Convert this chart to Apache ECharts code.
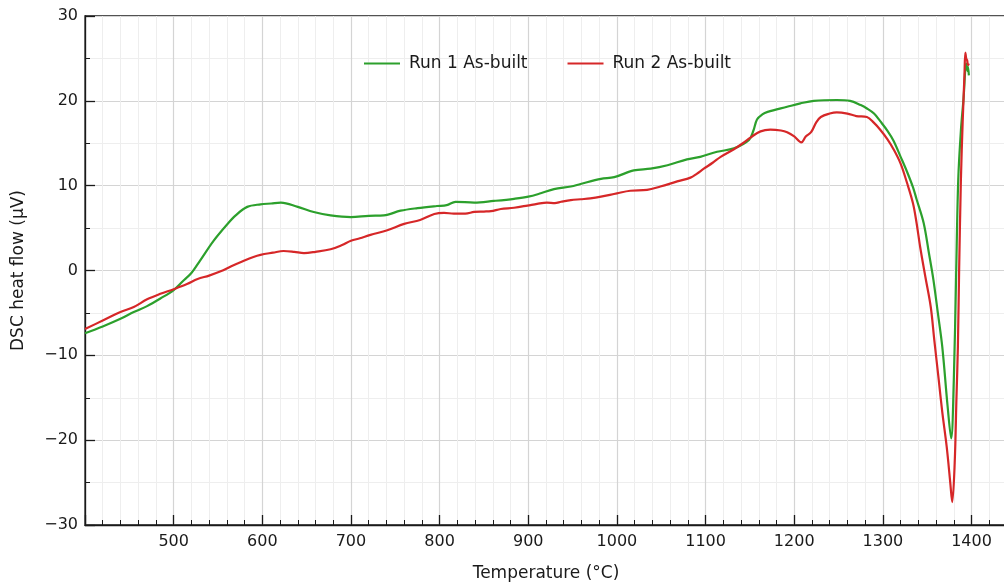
<!DOCTYPE html>
<html>
<head>
<meta charset="utf-8">
<script src="https://cdn.jsdelivr.net/npm/echarts@6/dist/echarts.min.js"></script>
<style>
  html, body { margin: 0; padding: 0; background: #fff; }
  #chart { width: 1004px; height: 582px; }
</style>
</head>
<body>
<div id="chart"></div>
<script>
// Run 1 As-built (green)
var temps1 = [400, 420, 440, 455, 470, 485, 500, 510, 520, 530, 545, 560, 570, 583, 598, 610, 621, 640, 658, 677,
  700, 720, 737, 756, 775, 797, 808, 818, 839, 861, 884, 900, 914, 929, 948, 959, 982, 997, 1019, 1038,
  1057, 1079, 1094, 1113, 1132, 1149, 1154, 1158, 1164, 1170, 1192, 1207, 1222, 1248, 1263, 1275, 1282, 1290, 1297, 1305,
  1312, 1320, 1327, 1334, 1338, 1346, 1352, 1357, 1362, 1367, 1373, 1377, 1380, 1382.5, 1385, 1388, 1391, 1394, 1395.5, 1396, 1397];
var heat1 = [-7.4, -6.6, -5.7, -4.9, -4.2, -3.3, -2.3, -1.3, -0.3, 1.2, 3.5, 5.4, 6.5, 7.5, 7.8, 7.9, 8.0, 7.5, 6.9, 6.5,
  6.3, 6.45, 6.5, 7.05, 7.35, 7.6, 7.7, 8.1, 8.0, 8.2, 8.45, 8.7, 9.1, 9.6, 9.9, 10.2, 10.8, 11.0, 11.8, 12.0,
  12.4, 13.1, 13.4, 14.0, 14.4, 15.4, 16.5, 17.8, 18.4, 18.7, 19.3, 19.7, 20.0, 20.1, 20.0, 19.5, 19.1, 18.5, 17.6, 16.5,
  15.3, 13.4, 11.7, 9.8, 8.4, 5.6, 2.0, -1.1, -5.0, -9.0, -16.0, -19.8, -12.9, -1.1, 10.7, 16.5, 20.3, 24.4, 23.5, 24.0, 23.0];

// Run 2 As-built (red)
var temps2 = [400, 420, 440, 455, 470, 485, 500, 515, 527, 540, 553, 565, 576, 590, 598, 612, 624, 636, 647, 660,
  677, 690, 700, 710, 722, 741, 760, 778, 794, 805, 816, 829, 839, 850, 858, 869, 884, 899, 910, 921,
  930, 937, 948, 959, 970, 982, 1000, 1015, 1034, 1049, 1068, 1083, 1090, 1098, 1108, 1117, 1132, 1142, 1151, 1162,
  1173, 1185, 1192, 1200, 1208, 1213, 1219, 1225, 1230, 1240, 1248, 1260, 1270, 1282, 1290, 1297, 1305, 1312, 1320, 1327,
  1334, 1338, 1342, 1348, 1354, 1358, 1363, 1367, 1372, 1376, 1378.2, 1381, 1383, 1384.6, 1386, 1388, 1390, 1392, 1393, 1394,
  1395, 1396, 1397];
var heat2 = [-6.9, -5.9, -4.9, -4.3, -3.4, -2.75, -2.2, -1.6, -1.0, -0.6, -0.1, 0.5, 1.0, 1.6, 1.85, 2.1, 2.3, 2.2, 2.05, 2.2,
  2.5, 3.0, 3.5, 3.8, 4.2, 4.75, 5.5, 5.95, 6.66, 6.8, 6.7, 6.7, 6.9, 6.95, 7.0, 7.25, 7.4, 7.65, 7.85, 8.0,
  7.95, 8.1, 8.3, 8.4, 8.5, 8.7, 9.1, 9.4, 9.5, 9.9, 10.5, 10.95, 11.4, 12.0, 12.7, 13.4, 14.3, 15.0, 15.7, 16.4,
  16.6, 16.5, 16.3, 15.8, 15.1, 15.8, 16.3, 17.5, 18.1, 18.5, 18.65, 18.5, 18.2, 18.1, 17.4, 16.6, 15.5, 14.3, 12.6, 10.4,
  7.9, 5.6, 2.8, -0.8, -4.3, -8.2, -12.9, -16.7, -20.8, -25.0, -27.3, -22.7, -15.0, -9.0, 0, 10.7, 17.5, 23.0, 25.7, 25.0,
  24.8, 24.2, 24.4];

var seriesNames = ['Run 1 As-built', 'Run 2 As-built'];
var seriesColors = ['#2ca02c', '#d62728'];

function zip(xs, ys) {
  return xs.map(function (x, i) { return [x, ys[i]]; });
}

var font = "'DejaVu Sans'";
var chart = echarts.init(document.getElementById('chart'));

chart.setOption({
  animation: false,
  grid: {
    left: 85, top: 16, right: -3, bottom: 57,
    outerBoundsMode: 'none',
    show: true, borderColor: '#1a1a1a', borderWidth: 1.3, backgroundColor: 'transparent'
  },
  legend: {
    left: 359, top: 50,
    icon: 'rect', itemWidth: 36, itemHeight: 2, itemGap: 40,
    textStyle: { fontFamily: font, fontSize: 17, color: '#1a1a1a', padding: [0, 0, 0, 4] },
    data: seriesNames
  },
  xAxis: {
    type: 'value',
    min: 400, max: 1440, interval: 100,
    name: 'Temperature (°C)', nameLocation: 'middle', nameGap: 40,
    nameTextStyle: { fontFamily: font, fontSize: 17, color: '#1a1a1a' },
    axisLine: { show: true, onZero: false, lineStyle: { color: '#1a1a1a', width: 1.3 } },
    axisTick: { show: true, inside: true, length: 10, lineStyle: { color: '#1a1a1a', width: 1.3 } },
    minorTick: { show: true, splitNumber: 5, length: 5, lineStyle: { color: '#1a1a1a', width: 1 } },
    axisLabel: {
      fontFamily: font, fontSize: 16, color: '#1a1a1a', margin: 9,
      showMinLabel: false, showMaxLabel: false,
      formatter: function (v) { return String(v); }
    },
    splitLine: { show: true, lineStyle: { color: '#d4d4d4', width: 1.2 } },
    minorSplitLine: { show: true, lineStyle: { color: '#eeeeee', width: 1 } }
  },
  yAxis: {
    type: 'value',
    min: -30, max: 30, interval: 10,
    name: 'DSC heat flow (μV)', nameLocation: 'middle', nameGap: 58,
    nameTextStyle: { fontFamily: font, fontSize: 17, color: '#1a1a1a' },
    axisLine: { show: true, onZero: false, lineStyle: { color: '#1a1a1a', width: 1.3 } },
    axisTick: { show: true, inside: true, length: 10, lineStyle: { color: '#1a1a1a', width: 1.3 } },
    minorTick: { show: true, splitNumber: 2, length: 5, lineStyle: { color: '#1a1a1a', width: 1 } },
    axisLabel: {
      fontFamily: font, fontSize: 16, color: '#1a1a1a', margin: 7,
      formatter: function (v) { return String(v).replace('-', '\u2212'); }
    },
    splitLine: { show: true, lineStyle: { color: '#d4d4d4', width: 1.2 } },
    minorSplitLine: { show: true, lineStyle: { color: '#eeeeee', width: 1 } }
  },
  series: [
    {
      name: seriesNames[0], type: 'line', data: zip(temps1, heat1),
      symbol: 'none', smooth: 0.35,
      color: seriesColors[0], lineStyle: { width: 2.2, color: seriesColors[0] }
    },
    {
      name: seriesNames[1], type: 'line', data: zip(temps2, heat2),
      symbol: 'none', smooth: 0.35,
      color: seriesColors[1], lineStyle: { width: 2.2, color: seriesColors[1] }
    }
  ]
});
</script>
</body>
</html>
